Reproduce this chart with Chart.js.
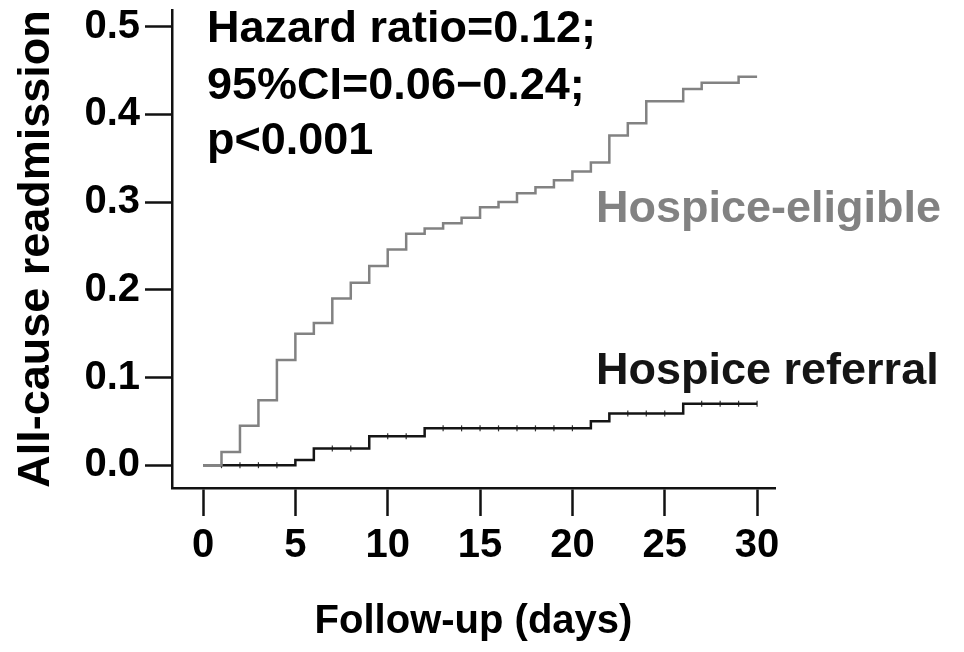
<!DOCTYPE html>
<html>
<head>
<meta charset="utf-8">
<script src="https://cdn.jsdelivr.net/npm/chart.js@4/dist/chart.umd.min.js"></script>
<style>
  body { margin: 0; background: #fff; }
  #contenedor { width: 964px; height: 652px; }
</style>
</head>
<body>
<div id="contenedor"><canvas id="grafica-km" width="964" height="652"></canvas></div>
<script>
// Datos (riesgo acumulado por dia)
var dias = [0,1,2,3,4,5,6,7,8,9,10,11,12,13,14,15,16,17,18,19,20,21,22,23,24,25,26,27,28,29,30];
var elegibles = [0,0.015,0.045,0.074,0.12,0.15,0.162,0.19,0.208,0.227,0.246,0.264,0.27,0.276,0.282,0.294,0.30,0.31,0.317,0.325,0.335,0.345,0.376,0.39,0.415,0.415,0.429,0.436,0.436,0.443,0.443];
var referidos = [0,0,0,0,0,0.006,0.019,0.019,0.019,0.033,0.033,0.033,0.042,0.042,0.042,0.042,0.042,0.042,0.042,0.042,0.042,0.05,0.059,0.059,0.059,0.059,0.07,0.07,0.07,0.07,0.07];
var diasCensura = [1,2,3,4,7,8,10,11,13,14,15,16,17,18,19,20,23,24,25,27,28,29,30];
var ticksX = [0,5,10,15,20,25,30];
var ticksY = [0,0.1,0.2,0.3,0.4,0.5];
var textoHR = ["Hazard ratio=0.12;", "95%CI=0.06\u22120.24;", "p<0.001"];
var etiquetas = ["Hospice-eligible", "Hospice referral"];
var colores = ["#828282", "#151515"];

var fuente = '"Liberation Sans", Arial, sans-serif';

function puntos(serie) {
  return dias.map(function(d, i) { return { x: d, y: serie[i] }; });
}

// marcas de censura sobre la curva de referidos
var censura = diasCensura.map(function(d) {
  return { x: d, y: referidos[dias.indexOf(d)] };
});

var pluginTextos = {
  id: 'textos',
  afterDraw: function(chart) {
    var ctx = chart.ctx;
    ctx.save();
    ctx.font = 'bold 45px ' + fuente;
    ctx.textBaseline = 'middle';
    ctx.textAlign = 'left';
    ctx.fillStyle = '#000';
    var ys = [30, 87, 142];
    for (var i = 0; i < textoHR.length; i++) {
      ctx.fillText(textoHR[i], 207, ys[i]);
    }
    ctx.fillStyle = colores[0];
    ctx.fillText(etiquetas[0], 596, 210);
    ctx.fillStyle = colores[1];
    ctx.fillText(etiquetas[1], 596, 372);
    ctx.restore();
  }
};

var ctx = document.getElementById('grafica-km').getContext('2d');
var chart = new Chart(ctx, {
  type: 'line',
  data: {
    datasets: [{
      label: etiquetas[0],
      data: puntos(elegibles),
      stepped: 'before',
      borderColor: colores[0],
      borderWidth: 2.5,
      pointRadius: 0,
      fill: false
    }, {
      label: etiquetas[1],
      data: puntos(referidos),
      stepped: 'before',
      borderColor: colores[1],
      borderWidth: 2.5,
      pointRadius: 0,
      fill: false
    }, {
      label: 'censura',
      data: censura,
      showLine: false,
      pointStyle: 'line',
      rotation: 90,
      pointRadius: 3,
      pointBorderWidth: 1.2,
      pointBorderColor: '#333',
      pointBackgroundColor: '#333'
    }]
  },
  options: {
    responsive: false,
    animation: false,
    layout: { padding: { top: 10, right: 189, left: 0, bottom: 0 } },
    plugins: {
      legend: { display: false },
      tooltip: { enabled: false }
    },
    scales: {
      x: {
        type: 'linear',
        min: -1.68,
        max: 30.97,
        afterBuildTicks: function(s) { s.ticks = ticksX.map(function(v) { return { value: v }; }); },
        afterFit: function(s) { s.height = 164; s.paddingLeft = 0; s.paddingRight = 0; },
        grid: { drawOnChartArea: false, drawTicks: true, tickLength: 28, tickWidth: 2.5, tickColor: '#111' },
        border: { display: true, color: '#111', width: 2.5 },
        ticks: { color: '#000', padding: 6, maxRotation: 0, font: { family: fuente, size: 40, weight: 'bold' } },
        title: { display: true, text: 'Follow-up (days)', color: '#000', padding: { top: 0, bottom: 6 }, font: { family: fuente, size: 40, weight: 'bold' } }
      },
      y: {
        type: 'linear',
        min: -0.026,
        max: 0.519,
        afterBuildTicks: function(s) { s.ticks = ticksY.map(function(v) { return { value: v }; }); },
        afterFit: function(s) { s.width = 172; s.paddingTop = 0; s.paddingBottom = 0; },
        grid: { drawOnChartArea: false, drawTicks: true, tickLength: 27, tickWidth: 2.5, tickColor: '#111' },
        border: { display: true, color: '#111', width: 2.5 },
        ticks: {
          color: '#000', padding: 5, font: { family: fuente, size: 40, weight: 'bold' },
          callback: function(v) { return v.toFixed(1); }
        },
        title: { display: true, text: 'All-cause readmission', color: '#000', padding: { top: 10, bottom: 0 }, font: { family: fuente, size: 45, weight: 'bold' } }
      }
    }
  },
  plugins: [pluginTextos]
});
</script>
</body>
</html>
